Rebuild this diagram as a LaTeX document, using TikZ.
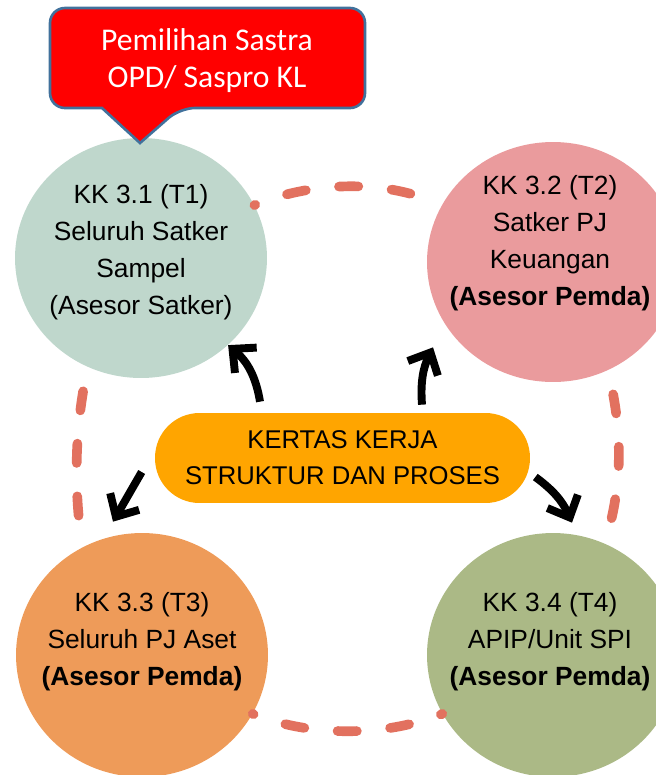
\documentclass[tikz,border=0pt]{standalone}
\usepackage{fontspec}
\setmainfont{Liberation Sans}
\newfontfamily\calibrifont{Carlito}
\usetikzlibrary{arrows.meta,shapes.geometric}
\definecolor{satkergreen}{HTML}{BFD7CC}
\definecolor{pemdapink}{HTML}{EA9B9D}
\definecolor{asetorange}{HTML}{EE9B59}
\definecolor{apipolive}{HTML}{ABB986}
\definecolor{linkred}{HTML}{E2715F}
\definecolor{boxorange}{HTML}{FFA500}
\definecolor{calloutline}{HTML}{41719C}

\begin{document}
\begin{tikzpicture}[x=0.02cm,y=-0.02cm,
  kkcircle/.style={ellipse,minimum width=5.04cm,minimum height=#1,inner sep=0pt},
  kktext/.style={align=center,font=\fontsize{15}{21}\selectfont},
  dashlink/.style={linkred,line width=5.5pt,line cap=round,dash pattern=on 11pt off 19pt,dash phase=#1},
  dashlink/.default=10.5pt,
  bigarrow/.style={line width=4.5pt,-{Straight Barb[length=10pt,width=19pt]}}]
\useasboundingbox (0,0) rectangle (656,775);
\foreach \n/\x/\y/\h/\c in {t1/141/258/4.8cm/satkergreen,t2/553/262/4.8cm/pemdapink,t3/142/655/4.88cm/asetorange,t4/553/655/4.88cm/apipolive}{\node[kkcircle=\h,fill=\c] (\n) at (\x,\y) {};}
\node[kktext] (t1txt) at (141,252) {KK 3.1 (T1)\\Seluruh Satker\\Sampel\\(Asesor Satker)};
\node[kktext] (t2txt) at (550,243) {KK 3.2 (T2)\\Satker PJ\\Keuangan\\\textbf{(Asesor Pemda)}};
\node[kktext] (t3txt) at (142,642) {KK 3.3 (T3)\\Seluruh PJ Aset\\\textbf{(Asesor Pemda)}};
\node[kktext] (t4txt) at (550,642) {KK 3.4 (T4)\\APIP/Unit SPI\\\textbf{(Asesor Pemda)}};
\node[fill=boxorange,rounded corners=0.89cm,minimum width=7.5cm,minimum height=1.8cm,align=center,font=\fontsize{14.6}{20.5}\selectfont] (kk) at (342.5,458) {KERTAS KERJA\\STRUKTUR DAN PROSES};
\filldraw[fill=red,draw=calloutline,line width=1.5pt] (102,108) [rounded corners=0.3cm] -- (50,108) -- (50,8) -- (365,8) -- (365,108) -- (180,108) [sharp corners] -- (140,143) -- cycle;
\node[text=white,align=center,font=\calibrifont\fontsize{18}{21}\selectfont] (pick) at (207,61) {Pemilihan Sastra\\OPD/ Saspro KL};
\draw[dashlink] (t1.25) .. controls (315,180) and (390,180) .. (t2.153);
\draw[dashlink] (t3.-28) .. controls (310,737) and (385,737) .. (t4.208);
\draw[dashlink=16pt] (t1.244) .. controls (74,430) and (74,490) .. (t3.119);
\draw[dashlink=16pt] (t2.-63) .. controls (622,430) and (624,480) .. (t4.65);
\draw[bigarrow] ([xshift=-1.65cm,yshift=0.22cm]kk.north) to[bend right=20] (t1.-45);
\draw[bigarrow] ([xshift=1.59cm,yshift=0.16cm]kk.north) to[bend left=15] ([xshift=-2.4cm,yshift=0.7cm]t2.south);
\draw[bigarrow] ([xshift=-0.26cm,yshift=-0.28cm]kk.west) -- ([xshift=-0.58cm,yshift=0.22cm]t3.north);
\draw[bigarrow] ([xshift=0.1cm,yshift=-0.38cm]kk.east) to[bend left=15] ([xshift=0.38cm,yshift=0.2cm]t4.north);
\end{tikzpicture}
\end{document}
